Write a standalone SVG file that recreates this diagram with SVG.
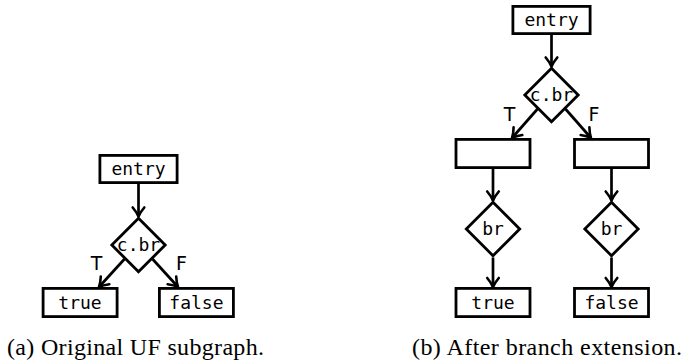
<svg xmlns="http://www.w3.org/2000/svg" width="694" height="364" viewBox="0 0 694 364">
<style>
.box{fill:#fff;stroke:#000;stroke-width:2.8}
.dia{fill:#fff;stroke:#000;stroke-width:2.8;stroke-linejoin:miter}
.mono{font-family:"DejaVu Sans Mono",monospace;font-size:18px;fill:#000;text-anchor:middle}
.lbl{font-family:"DejaVu Sans",sans-serif;font-size:19px;fill:#000;text-anchor:middle}
.cap{font-family:"Liberation Serif",serif;font-size:24px;fill:#000}
.edge{fill:none;stroke:#000;stroke-width:2.7}
</style>
<defs>
<marker id="arr" markerUnits="userSpaceOnUse" markerWidth="14" markerHeight="14" refX="10" refY="7" orient="auto" overflow="visible">
<path d="M1,1.2 Q6,5.4 10,7 Q6,8.6 1,12.8" fill="none" stroke="#000" stroke-width="2.6" stroke-linecap="round" stroke-linejoin="round"/>
</marker>
</defs>

<g id="connectors">
<path class="edge" marker-end="url(#arr)" d="M138.5,183.5 L138.5,216.5"/>
<path class="edge" marker-end="url(#arr)" d="M124.5,259 L99,287"/>
<path class="edge" marker-end="url(#arr)" d="M152.5,259 L178,287"/>
<path class="edge" marker-end="url(#arr)" d="M551.5,35 L551.5,66.5"/>
<path class="edge" marker-end="url(#arr)" d="M537.5,109 L512,138"/>
<path class="edge" marker-end="url(#arr)" d="M565.5,109 L591,138"/>
<path class="edge" marker-end="url(#arr)" d="M493,169 L493,200.5"/>
<path class="edge" marker-end="url(#arr)" d="M611.5,169 L611.5,200.5"/>
<path class="edge" marker-end="url(#arr)" d="M493,257.5 L493,287"/>
<path class="edge" marker-end="url(#arr)" d="M611.5,257.5 L611.5,287"/>
<text class="lbl" x="96.5" y="269.5">T</text>
<text class="lbl" x="181.5" y="269.5">F</text>
<text class="lbl" x="509.5" y="120.5">T</text>
<text class="lbl" x="594" y="120.5">F</text>
</g>

<g id="a-entry"><rect class="box" x="99.9" y="155.4" width="77.2" height="27.2"/><text class="mono" x="138.5" y="175.2">entry</text></g>
<g id="a-cbr"><polygon class="dia" points="138.5,218.3 165.2,245 138.5,271.7 111.8,245"/><text class="mono" x="138.5" y="250.8">c.br</text></g>
<g id="a-true"><rect class="box" x="43.1" y="288.4" width="74" height="28.2"/><text class="mono" x="80" y="308.8">true</text></g>
<g id="a-false"><rect class="box" x="159.4" y="288.4" width="74" height="28.2"/><text class="mono" x="196.4" y="308.8">false</text></g>

<g id="b-entry"><rect class="box" x="512.9" y="6.4" width="77.2" height="27.2"/><text class="mono" x="551.5" y="26.2">entry</text></g>
<g id="b-cbr"><polygon class="dia" points="551.5,68.3 578.2,95 551.5,121.7 524.8,95"/><text class="mono" x="551.5" y="100.8">c.br</text></g>
<g id="b-ext-t"><rect class="box" x="456" y="139.4" width="74" height="28.2"/></g>
<g id="b-ext-f"><rect class="box" x="574.5" y="139.4" width="74" height="28.2"/></g>
<g id="b-br-t"><polygon class="dia" points="493,202.3 519.7,229 493,255.7 466.3,229"/><text class="mono" x="493" y="234.8">br</text></g>
<g id="b-br-f"><polygon class="dia" points="611.5,202.3 638.2,229 611.5,255.7 584.8,229"/><text class="mono" x="611.5" y="234.8">br</text></g>
<g id="b-true"><rect class="box" x="456" y="288.4" width="74" height="28.2"/><text class="mono" x="493" y="308.8">true</text></g>
<g id="b-false"><rect class="box" x="574.5" y="288.4" width="74" height="28.2"/><text class="mono" x="611.5" y="308.8">false</text></g>

<g id="captions">
<text class="cap" x="7" y="355" textLength="257" lengthAdjust="spacing">(a) Original UF subgraph.</text>
<text class="cap" x="412" y="355" textLength="270" lengthAdjust="spacing">(b) After branch extension.</text>
</g>
</svg>
